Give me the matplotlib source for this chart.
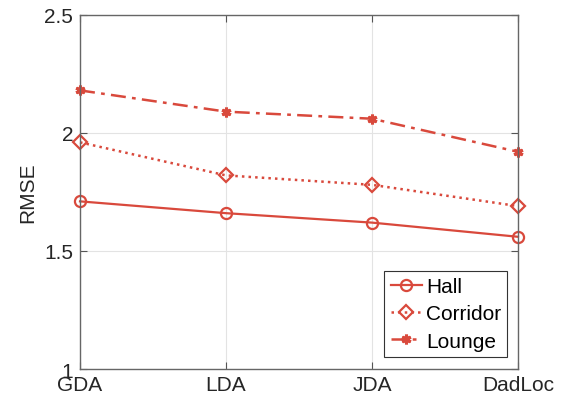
import numpy as np
import matplotlib.pyplot as plt

plt.rcParams['font.family'] = ['Liberation Sans', 'DejaVu Sans']

# data
methods = ['GDA', 'LDA', 'JDA', 'DadLoc']
hall = [1.71, 1.66, 1.62, 1.56]
corridor = [1.96, 1.82, 1.78, 1.69]
lounge = [2.18, 2.09, 2.06, 1.92]

red = '#d9493c'
x = np.arange(len(methods))

fig = plt.figure(figsize=(5.74, 4.02), dpi=100)
ax = fig.add_axes([0.1394, 0.0796, 0.763, 0.881])

ax.plot(x, hall, color=red, ls='-', lw=1.6, marker='o',
        ms=8, mfc='none', mew=1.6, label='Hall', clip_on=False)
ax.plot(x, corridor, color=red, ls=':', lw=1.8, marker='D',
        ms=7, mfc='none', mew=1.6, label='Corridor', clip_on=False)
ax.plot(x, lounge, color=red, ls=(0, (6, 2.5, 1.5, 2.5)), lw=1.8, marker=(6, 2, 0),
        ms=7, mew=2.2, label='Lounge', clip_on=False)

ax.set_xlim(0, 3)
ax.set_ylim(1, 2.5)
ax.set_xticks(x)
ax.set_xticklabels(methods)
ax.set_yticks([1, 1.5, 2, 2.5])
ax.set_yticklabels(['1', '1.5', '2', '2.5'])
ax.set_ylabel('RMSE', fontsize=15, color='#262626', labelpad=5)

ax.grid(True, color='#e3e3e3', lw=0.8)
ax.set_axisbelow(True)
ax.tick_params(direction='in', length=5, width=0.8, colors='#555555',
               labelcolor='#262626', labelsize=15, top=True, right=True)
ax.tick_params(axis='x', pad=4)
ax.tick_params(axis='y', pad=5)
for s in ax.spines.values():
    s.set_color('#666666')
    s.set_linewidth(1.0)

leg = ax.legend(loc='lower right', fontsize=15, handlelength=1.5,
                handletextpad=0.2, borderpad=0.3, labelspacing=0.4,
                fancybox=False, framealpha=1, edgecolor='#333333',
                borderaxespad=0, bbox_to_anchor=(0.976, 0.034))
leg.get_frame().set_linewidth(0.8)

fig.savefig('out.png', dpi=100)
